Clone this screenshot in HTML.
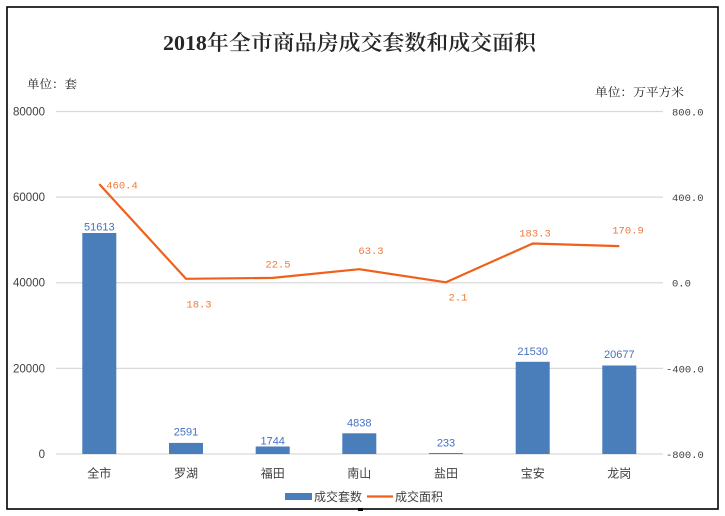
<!DOCTYPE html>
<html><head><meta charset="utf-8"><style>
html,body{margin:0;padding:0;background:#fff;}
svg{display:block;}
</style></head><body>
<svg width="725" height="516" viewBox="0 0 725 516" xmlns="http://www.w3.org/2000/svg">
<rect x="0" y="0" width="725" height="516" fill="#fff"/>
<rect x="7" y="7" width="711" height="502" fill="none" stroke="#000" stroke-width="1.6"/>
<rect x="358" y="508" width="5" height="3" fill="#000"/>
<text x="163" y="50" textLength="373" lengthAdjust="spacingAndGlyphs" font-family="Liberation Serif, Noto Serif CJK SC, serif" font-size="21" font-weight="600" fill="#262626">2018年全市商品房成交套数和成交面积</text>
<text x="27" y="88" textLength="50" lengthAdjust="spacingAndGlyphs" font-family="Noto Serif CJK SC, serif" font-size="11.5" fill="#222">单位：套</text>
<text x="595" y="96" textLength="89" lengthAdjust="spacingAndGlyphs" font-family="Noto Serif CJK SC, serif" font-size="11.5" fill="#222">单位：万平方米</text>
<g stroke="#d9d9d9" stroke-width="1.2">
<line x1="56" y1="111.5" x2="663" y2="111.5"/>
<line x1="56" y1="197.1" x2="663" y2="197.1"/>
<line x1="56" y1="282.75" x2="663" y2="282.75"/>
<line x1="56" y1="368.4" x2="663" y2="368.4"/>
<line x1="56" y1="454" x2="663" y2="454"/>
</g>
<g font-family="Liberation Sans, sans-serif" font-size="11.5" fill="#404040" text-anchor="end">
<text x="45" y="115.5">80000</text>
<text x="45" y="201.1">60000</text>
<text x="45" y="286.7">40000</text>
<text x="45" y="372.4">20000</text>
<text x="45" y="458">0</text>
</g>
<g font-family="Liberation Mono, monospace" font-size="10.5" fill="#404040">
<text x="672" y="115.5">800.0</text>
<text x="672" y="201.1">400.0</text>
<text x="672" y="286.7">0.0</text>
<text x="666" y="372.4">-400.0</text>
<text x="666" y="458">-800.0</text>
</g>
<g fill="#4a7ebb">
<rect x="82.3" y="233" width="34" height="221"/>
<rect x="169" y="442.9" width="34" height="11.1"/>
<rect x="255.7" y="446.5" width="34" height="7.5"/>
<rect x="342.3" y="433.3" width="34" height="20.7"/>
<rect x="429" y="453" width="34" height="1"/>
<rect x="515.7" y="361.8" width="34" height="92.2"/>
<rect x="602.3" y="365.5" width="34" height="88.5"/>
</g>
<g font-family="Liberation Sans, sans-serif" font-size="11" fill="#4472c4" text-anchor="middle">
<text x="99.3" y="230.7">51613</text>
<text x="186" y="435.7">2591</text>
<text x="272.7" y="444.7">1744</text>
<text x="359.3" y="426.3">4838</text>
<text x="446" y="446.7">233</text>
<text x="532.7" y="355">21530</text>
<text x="619.3" y="358">20677</text>
</g>
<polyline points="99.3,184.1 186,278.8 272.7,277.9 359.3,269.2 446,282.3 532.7,243.5 619.3,246.1" fill="none" stroke="#f0601a" stroke-width="2.2" stroke-linejoin="round"/>
<g font-family="Liberation Mono, monospace" font-size="10.5" fill="#f07a3a" text-anchor="middle">
<text x="122" y="188.5">460.4</text>
<text x="199" y="307.5">18.3</text>
<text x="278" y="267.5">22.5</text>
<text x="371" y="254">63.3</text>
<text x="458" y="300.5">2.1</text>
<text x="535" y="236.5">183.3</text>
<text x="628" y="233.5">170.9</text>
</g>
<g font-family="Liberation Sans, Noto Sans CJK SC, sans-serif" font-size="12" fill="#404040" text-anchor="middle">
<text x="99.3" y="477.5">全市</text>
<text x="186" y="477.5">罗湖</text>
<text x="272.7" y="477.5">福田</text>
<text x="359.3" y="477.5">南山</text>
<text x="446" y="477.5">盐田</text>
<text x="532.7" y="477.5">宝安</text>
<text x="619.3" y="477.5">龙岗</text>
</g>
<rect x="285" y="493" width="27" height="7" fill="#4a7ebb"/>
<text x="314" y="501" font-family="Liberation Sans, Noto Sans CJK SC, sans-serif" font-size="12" fill="#404040">成交套数</text>
<line x1="367" y1="496.5" x2="393" y2="496.5" stroke="#f0601a" stroke-width="2.2"/>
<text x="395" y="501" font-family="Liberation Sans, Noto Sans CJK SC, sans-serif" font-size="12" fill="#404040">成交面积</text>
</svg>
</body></html>
